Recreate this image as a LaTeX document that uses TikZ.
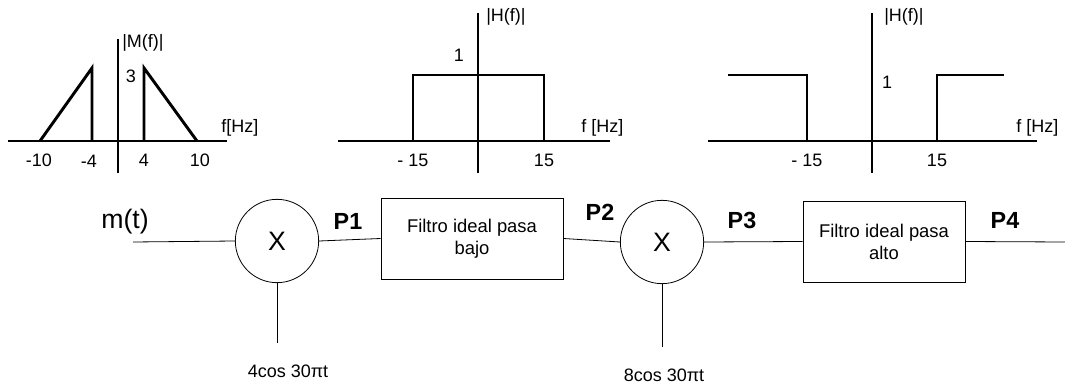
\documentclass[tikz,border=0pt]{standalone}
\usepackage{fontspec}
\setmainfont{Liberation Sans}
\begin{document}
\begin{tikzpicture}[x=0.75pt,y=-0.75pt,
  axis/.style={line width=2.2pt},
  curve/.style={line width=2.2pt},
  lbl/.style={font=\fontsize{13.5}{15}\selectfont, inner sep=0pt},
  wire/.style={line width=0.6pt},
  mult/.style={circle, draw, line width=0.6pt, minimum size=62.5pt, inner sep=0pt, font=\fontsize{20}{22}\selectfont},
  filt/.style={draw, line width=0.6pt, align=center, inner sep=0pt, font=\fontsize{13.8}{16.5}\selectfont},
  plbl/.style={font=\bfseries\fontsize{17.5}{19}\selectfont, inner sep=0pt},
  clbl/.style={font=\fontsize{13.5}{15}\selectfont, inner sep=0pt}]
\useasboundingbox (0,0) rectangle (1065,385);
% ---- Plot 1: |M(f)|
\draw[axis] (8,141) -- (227,141);
\draw[axis] (118,39) -- (118,173);
\draw[curve, line join=miter] (40,141) -- (92,68) -- (92,141);
\draw[curve, line join=miter] (144,141) -- (144,68) -- (197,141);
\node[lbl, anchor=west] (mlab) at (122,43) {|M(f)|};
\node[lbl] (m3) at (131,76) {3};
\node[lbl, anchor=west] (mhz) at (221,128) {f[Hz]};
\node[lbl] (mt1) at (39,160) {-10};
\node[lbl] (mt2) at (89,161) {-4};
\node[lbl] (mt3) at (144,160) {4};
\node[lbl] (mt4) at (200,160) {10};
% ---- Plot 2: low pass
\draw[axis] (338,141) -- (610,141);
\draw[axis] (478,13) -- (478,173);
\draw[curve, line join=miter] (413,141) -- (413,75) -- (544,75) -- (544,141);
\node[lbl, anchor=west] (hlab1) at (486,17) {|H(f)|};
\node[lbl] (h11) at (459,55) {1};
\node[lbl, anchor=west] (hhz1) at (581,128) {f [Hz]};
\node[lbl] (ht11) at (413,160) {- 15};
\node[lbl] (ht12) at (544,160) {15};
% ---- Plot 3: high pass
\draw[axis] (708,141) -- (1037,141);
\draw[axis] (872,13) -- (872,173);
\draw[curve, line join=miter] (728,75) -- (807,75) -- (807,141);
\draw[curve, line join=miter] (937,141) -- (937,75) -- (1004,75);
\node[lbl, anchor=west] (hlab2) at (884,17) {|H(f)|};
\node[lbl] (h12) at (887,82) {1};
\node[lbl, anchor=west] (hhz2) at (1016,128) {f [Hz]};
\node[lbl] (ht21) at (807,160) {- 15};
\node[lbl] (ht22) at (937,160) {15};
% ---- Block diagram
\node[mult] (c1) at (277,241) {X};
\node[mult] (c2) at (662,242) {X};
\node[filt, minimum width=136.5pt, minimum height=60.75pt] (b1) at (472,238.5) {Filtro ideal pasa\\bajo};
\node[filt, minimum width=121.5pt, minimum height=60.75pt] (b2) at (884,241.5) {Filtro ideal pasa\\alto};
\coordinate (in) at (133,242);
\coordinate (out) at (1065,242);
\coordinate (s1) at (277,343);
\coordinate (s2) at (662,347);
\draw[wire] (in) -- (c1.west);
\draw[wire] (c1.east) -- (b1.west);
\draw[wire] (b1.east) -- (c2.west);
\draw[wire] (c2.east) -- (b2.west);
\draw[wire] (b2.east) -- (out);
\draw[wire] (c1.south) -- (s1);
\draw[wire] (c2.south) -- (s2);
\node[font=\fontsize{20}{22}\selectfont, inner sep=0pt] (mt) at (125,222) {m(t)};
\node[plbl] (p1) at (348,221) {P1};
\node[plbl] (p2) at (600,212) {P2};
\node[plbl] (p3) at (742,220) {P3};
\node[plbl] (p4) at (1005,220) {P4};
\node[clbl] (cos1) at (288,371) {4cos 30πt};
\node[clbl] (cos2) at (664,375) {8cos 30πt};
\end{tikzpicture}
\end{document}
